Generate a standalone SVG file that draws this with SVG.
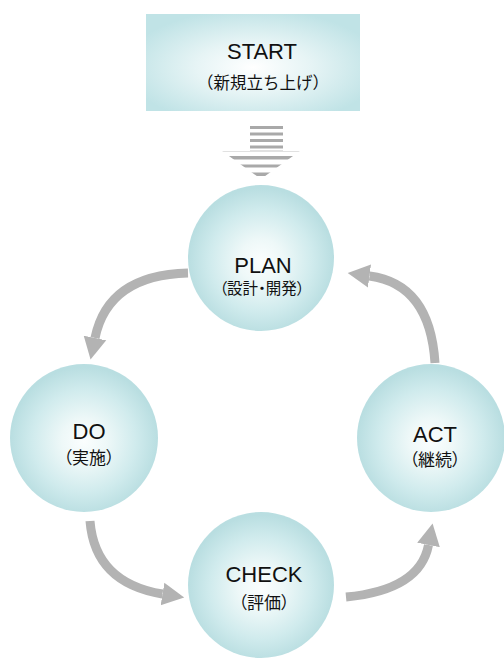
<svg xmlns="http://www.w3.org/2000/svg" width="504" height="659" viewBox="0 0 504 659">
  <style>
    .main { font-family: "Liberation Sans", Arial, sans-serif; font-size: 22px; fill: #111; text-anchor: middle; }
    .sub { font-family: "Liberation Sans", "Noto Sans CJK JP", sans-serif; font-size: 17px; fill: #111; text-anchor: middle; font-feature-settings: "palt"; }
    .flow { fill: none; stroke: #b3b3b3; stroke-width: 9; }
    .stripe { fill: #a9a9a9; }
  </style>
  <defs>
    <radialGradient id="ballFill" cx="0.5" cy="0.52" r="0.5">
      <stop offset="0" stop-color="#fbfefe"/>
      <stop offset="0.3" stop-color="#eef8f8"/>
      <stop offset="0.7" stop-color="#d0ebed"/>
      <stop offset="1" stop-color="#b9dee1"/>
    </radialGradient>
    <radialGradient id="boxFill" cx="0.5" cy="0.55" r="0.6">
      <stop offset="0" stop-color="#ffffff"/>
      <stop offset="0.45" stop-color="#e6f4f5"/>
      <stop offset="1" stop-color="#c0e3e6"/>
    </radialGradient>
    <marker id="head" markerUnits="userSpaceOnUse" markerWidth="24" markerHeight="26" viewBox="0 -13 24 26" refX="0" refY="0" orient="auto">
      <path d="M0,-11.5 L22,0 L0,11.5 z" fill="#b3b3b3"/>
    </marker>
    <clipPath id="downArrow">
      <polygon points="250,124 283,124 283,151 300,151 261,179 222,151 250,151"/>
    </clipPath>
  </defs>

  <!-- start box -->
  <g id="start">
    <rect x="146" y="14" width="214" height="97" fill="url(#boxFill)"/>
    <text class="main" x="262" y="59">START</text>
    <text class="sub" x="263" y="89" style="font-size:16.5px;font-feature-settings:normal">（新規立ち上げ）</text>
  </g>

  <!-- striped arrow into the cycle -->
  <g id="entry" clip-path="url(#downArrow)">
    <rect class="stripe" x="220" y="126" width="82" height="3"/>
    <rect class="stripe" x="220" y="132.5" width="82" height="3"/>
    <rect class="stripe" x="220" y="139" width="82" height="3"/>
    <rect class="stripe" x="220" y="145.5" width="82" height="3"/>
    <rect fill="#c4c4c4" x="220" y="150.5" width="82" height="1"/>
    <rect class="stripe" x="220" y="156" width="82" height="3.5"/>
    <rect class="stripe" x="220" y="164.5" width="82" height="3"/>
    <rect class="stripe" x="220" y="172.5" width="82" height="3.5"/>
  </g>

  <!-- cycle arrows -->
  <g id="connectors">
    <path class="flow" d="M188,273 Q108,275 95,338" marker-end="url(#head)"/>
    <path class="flow" d="M90,521 Q95,583 162.5,594" marker-end="url(#head)"/>
    <path class="flow" d="M346,597 Q420,590 428.5,545" marker-end="url(#head)"/>
    <path class="flow" d="M435,363 Q430,284 369.5,276" marker-end="url(#head)"/>
  </g>

  <g id="plan">
    <circle cx="261" cy="258" r="73" fill="url(#ballFill)"/>
    <text class="main" x="263" y="273">PLAN</text>
    <text class="sub" x="262" y="294" style="font-size:15.5px">（設計・開発）</text>
  </g>

  <g id="do">
    <circle cx="84" cy="438" r="74" fill="url(#ballFill)"/>
    <text class="main" x="89" y="439">DO</text>
    <text class="sub" x="89" y="464">（実施）</text>
  </g>

  <g id="act">
    <circle cx="431" cy="438" r="74" fill="url(#ballFill)"/>
    <text class="main" x="435" y="442">ACT</text>
    <text class="sub" x="435" y="466">（継続）</text>
  </g>

  <g id="check">
    <circle cx="261" cy="585" r="73" fill="url(#ballFill)"/>
    <text class="main" x="264" y="582">CHECK</text>
    <text class="sub" x="264" y="609">（評価）</text>
  </g>
</svg>
